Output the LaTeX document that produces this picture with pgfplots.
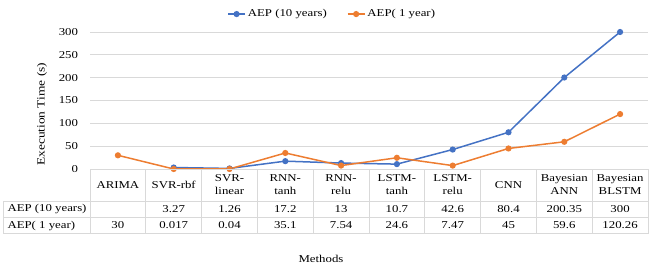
\documentclass[border=0pt]{standalone}
\usepackage{fontspec}
\setmainfont{Liberation Serif}[FakeStretch=1.22]
\usepackage{pgfplots}
\pgfplotsset{compat=1.18}
\definecolor{exblue}{HTML}{4472C4}
\definecolor{exorange}{HTML}{ED7D31}
\definecolor{gridgray}{HTML}{D9D9D9}
\begin{document}
\begin{tikzpicture}[font=\fontsize{10.5}{13}\selectfont]
\useasboundingbox (0,0) rectangle (665pt,-271pt);
\begin{axis}[
  at={(90pt,-169pt)}, anchor=south west,
  scale only axis, width=558pt, height=137pt,
  xmin=-0.5, xmax=9.5, ymin=0, ymax=300,
  clip=false,
  axis line style={draw=none},
  major tick length=0pt,
  xtick={0,...,9},
  xticklabels={ARIMA, SVR-rbf, SVR-\\linear, RNN-\\tanh, RNN-\\relu, LSTM-\\tanh, LSTM-\\relu, CNN, Bayesian\\ANN, Bayesian\\BLSTM},
  xticklabel style={anchor=center, yshift=-16pt, align=center},
  ytick={0,50,...,300},
  yticklabel style={anchor=east, xshift=-8.5pt},
  /pgf/number format/assume math mode=true,
  ymajorgrids, grid style={gridgray, line width=0.8pt},
  ylabel={\fontsize{11}{13}\selectfont Execution Time (s)},
  every axis y label/.style={at={(axis description cs:0,0.40)}, xshift=-48pt, rotate=90, anchor=center},
  xlabel={Methods},
  every axis x label/.style={at={(axis description cs:0.414,0)}, yshift=-90pt, anchor=center},
  legend columns=2,
  legend style={at={(axis description cs:0.434,1.131)}, anchor=center, draw=none, fill=none,
    /tikz/every even column/.append style={column sep=18pt}},
  legend cell align=left,
]
\addplot[exblue, line width=1.5pt, mark=*, mark size=2.3pt] coordinates {
  (1,3.27) (2,1.26) (3,17.2) (4,13) (5,10.7) (6,42.6) (7,80.4) (8,200.35) (9,300)};
\addlegendentry{AEP (10 years)}
\addplot[exorange, line width=1.5pt, mark=*, mark size=2.3pt] coordinates {
  (0,30) (1,0.017) (2,0.04) (3,35.1) (4,7.54) (5,24.6) (6,7.47) (7,45) (8,59.6) (9,120.26)};
\addlegendentry{AEP( 1 year)}
\end{axis}
\begin{scope}[x=1pt, y=1pt]
\begin{scope}[gridgray, line width=0.8pt]
\draw (90,-169) -- (648,-169);
\foreach \yy in {201,217.5,233.5} \draw (3,-\yy) -- (648,-\yy);
\draw (3,-201) -- (3,-233.5);
\foreach \k in {0,...,10} \draw ({90+55.8*\k},-169) -- ({90+55.8*\k},-233.5);
\end{scope}
\node[anchor=west] at (4,-209.3) {AEP (10 years)};
\node[anchor=west] at (4,-225.5) {AEP( 1 year)};
\foreach \v [count=\i from 0] in {{},3.27,1.26,17.2,13,10.7,42.6,80.4,200.35,300}
  \node at ({90+55.8*(\i+0.5)},-209.3) {\v};
\foreach \v [count=\i from 0] in {30,0.017,0.04,35.1,7.54,24.6,7.47,45,59.6,120.26}
  \node at ({90+55.8*(\i+0.5)},-225.5) {\v};
\end{scope}
\end{tikzpicture}
\end{document}
